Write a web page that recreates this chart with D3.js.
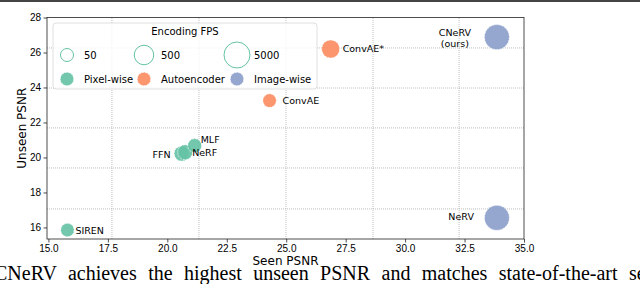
<!DOCTYPE html>
<html>
<head>
<meta charset="utf-8">
<script src="https://cdn.jsdelivr.net/npm/d3@7"></script>
<style>
  body { margin: 0; background: #fff; }
  svg { display: block; font-family: "DejaVu Sans", sans-serif; }
</style>
</head>
<body>
<div id="chart"></div>
<script>
// ---- data ----
const methods  = ["SIREN", "FFN", "NeRF", "MLF", "ConvAE", "ConvAE*", "CNeRV", "NeRV"];
const groups   = ["Pixel-wise", "Pixel-wise", "Pixel-wise", "Pixel-wise", "Autoencoder", "Autoencoder", "Image-wise", "Image-wise"];
const seenPSNR   = [15.8, 20.6, 20.75, 21.15, 24.3, 26.87, 33.86, 33.86];
const unseenPSNR = [15.85, 20.22, 20.3, 20.68, 23.25, 26.2, 26.88, 16.55];
const encFPS     = [60, 100, 100, 70, 60, 300, 3500, 3500];

const groupNames = ["Pixel-wise", "Autoencoder", "Image-wise"];
const fpsLegend  = [50, 500, 5000];
const xTicks = [15.0, 17.5, 20.0, 22.5, 25.0, 27.5, 30.0, 32.5, 35.0];
const yTicks = [16, 18, 20, 22, 24, 26, 28];
// the grid in the figure does not line up with the ticks
const xGrid = [17.67, 21.33, 24.99, 28.65, 32.27];
const yGrid = [26.26, 23.97, 21.69, 19.40, 17.06];

const caption = "CNeRV achieves the highest unseen PSNR and matches state-of-the-art seen";

// label placement (pixels from the marker centre)
const labelPos = {
  "SIREN":   {dx: 8,   dy: 0,  anchor: "start"},
  "FFN":     {dx: -11, dy: 1,  anchor: "end"},
  "NeRF":    {dx: 7,   dy: 0,  anchor: "start"},
  "MLF":     {dx: 6,   dy: -6, anchor: "start"},
  "ConvAE":  {dx: 13,  dy: 0,  anchor: "start"},
  "ConvAE*": {dx: 12,  dy: 0,  anchor: "start"},
  "CNeRV":   {dx: -42, dy: -5, anchor: "middle", second: "(ours)"},
  "NeRV":    {dx: -23, dy: -1, anchor: "end"}
};

const W = 640, H = 284;
const svg = d3.select("#chart").append("svg")
    .attr("width", W)
    .attr("height", H);

const x = d3.scaleLinear().domain([14.94, 35]).range([47, 524]);
const y = d3.scaleLinear().domain([15.34, 28]).range([239, 17.5]);
const r = d3.scaleLog().domain([50, 5000]).range([6.5, 13]);
const color = d3.scaleOrdinal().domain(groupNames).range(["#66c2a5", "#fc8d62", "#8da0cb"]);

// page rule at the top
svg.append("rect").attr("x", 0).attr("y", 0).attr("width", W).attr("height", 2).attr("fill", "#444");

// grid
svg.append("g").selectAll("line").data(xGrid).join("line")
    .attr("x1", d => x(d)).attr("x2", d => x(d))
    .attr("y1", y.range()[0]).attr("y2", y.range()[1])
    .attr("stroke", "#b0b0b0").attr("stroke-width", 0.8).attr("stroke-dasharray", "1,1");
svg.append("g").selectAll("line").data(yGrid).join("line")
    .attr("y1", d => y(d)).attr("y2", d => y(d))
    .attr("x1", x.range()[0]).attr("x2", x.range()[1])
    .attr("stroke", "#b0b0b0").attr("stroke-width", 0.8).attr("stroke-dasharray", "1,1");

// axes
const xAxis = svg.append("g")
    .attr("transform", `translate(0,${y.range()[0]})`)
    .call(d3.axisBottom(x).tickValues(xTicks).tickFormat(d3.format(".1f")).tickSize(3.5).tickPadding(2));
const yAxis = svg.append("g")
    .attr("transform", `translate(${x.range()[0]},0)`)
    .call(d3.axisLeft(y).tickValues(yTicks).tickFormat(d3.format("d")).tickSize(3.5).tickPadding(2.5));
[xAxis, yAxis].forEach(a => {
  a.selectAll("text").style("font-size", "10px").attr("fill", "#000");
  a.selectAll("line").attr("stroke", "#222").attr("stroke-width", 0.8);
  a.select(".domain").remove();
});
// box spines
svg.append("rect")
    .attr("x", x.range()[0]).attr("y", y.range()[1])
    .attr("width", x.range()[1] - x.range()[0])
    .attr("height", y.range()[0] - y.range()[1])
    .attr("fill", "none").attr("stroke", "#222").attr("stroke-width", 0.8);

svg.append("text")
    .attr("x", (x.range()[0] + x.range()[1]) / 2).attr("y", 264.5)
    .attr("text-anchor", "middle")
    .style("font-size", "12px")
    .text("Seen PSNR");
svg.append("text")
    .attr("transform", `translate(26,${(y.range()[0] + y.range()[1]) / 2}) rotate(-90)`)
    .attr("text-anchor", "middle")
    .style("font-size", "12px")
    .text("Unseen PSNR");

// points
const pts = methods.map((m, i) => ({name: m, group: groups[i], sx: seenPSNR[i], uy: unseenPSNR[i], fps: encFPS[i]}));

svg.append("g").selectAll("circle").data(pts).join("circle")
    .attr("cx", d => x(d.sx))
    .attr("cy", d => y(d.uy))
    .attr("r", d => r(d.fps))
    .attr("fill", d => color(d.group))
    .attr("fill-opacity", 0.92)
    .attr("stroke", "#fff")
    .attr("stroke-width", 1)
    .attr("stroke-dasharray", "2,1")
    .attr("stroke-opacity", 0.7);

const labels = svg.append("g").style("font-size", "9.5px");
pts.forEach(d => {
  const p = labelPos[d.name];
  labels.append("text")
      .attr("x", x(d.sx) + p.dx)
      .attr("y", y(d.uy) + p.dy)
      .attr("text-anchor", p.anchor)
      .attr("dominant-baseline", "central")
      .text(d.name);
  if (p.second) {
    labels.append("text")
        .attr("x", x(d.sx) + p.dx)
        .attr("y", y(d.uy) + p.dy + 11)
        .attr("text-anchor", p.anchor)
        .attr("dominant-baseline", "central")
        .text(p.second);
  }
});

// legend
const leg = svg.append("g");
leg.append("rect")
    .attr("x", 53).attr("y", 23).attr("width", 264).attr("height", 66)
    .attr("rx", 3)
    .attr("fill", "#fff").attr("fill-opacity", 0.8)
    .attr("stroke", "#d8d8d8").attr("stroke-width", 0.8);
leg.append("text")
    .attr("x", 185).attr("y", 31)
    .attr("text-anchor", "middle").attr("dominant-baseline", "central")
    .style("font-size", "10px")
    .text("Encoding FPS");

const colX = [67, 144, 237];
fpsLegend.forEach((f, i) => {
  leg.append("circle")
      .attr("cx", colX[i]).attr("cy", 55).attr("r", r(f))
      .attr("fill", "none").attr("stroke", color("Pixel-wise")).attr("stroke-width", 1);
  leg.append("text")
      .attr("x", colX[i] + 17).attr("y", 55)
      .attr("dominant-baseline", "central")
      .style("font-size", "10px")
      .text(f);
});
groupNames.forEach((g, i) => {
  leg.append("circle")
      .attr("cx", colX[i]).attr("cy", 79).attr("r", 6.8)
      .attr("fill", color(g)).attr("fill-opacity", 0.92)
      .attr("stroke", "#fff").attr("stroke-width", 1)
      .attr("stroke-dasharray", "2,1").attr("stroke-opacity", 0.7);
  leg.append("text")
      .attr("x", colX[i] + 17).attr("y", 79)
      .attr("dominant-baseline", "central")
      .style("font-size", "10px")
      .text(g);
});

// caption line of the paper below the figure
svg.append("text")
    .attr("x", -6).attr("y", 280)
    .style("font-family", "'Liberation Serif', 'DejaVu Serif', serif")
    .style("font-size", "20px")
    .style("word-spacing", "6.4px")
    .text(caption);
</script>
</body>
</html>
